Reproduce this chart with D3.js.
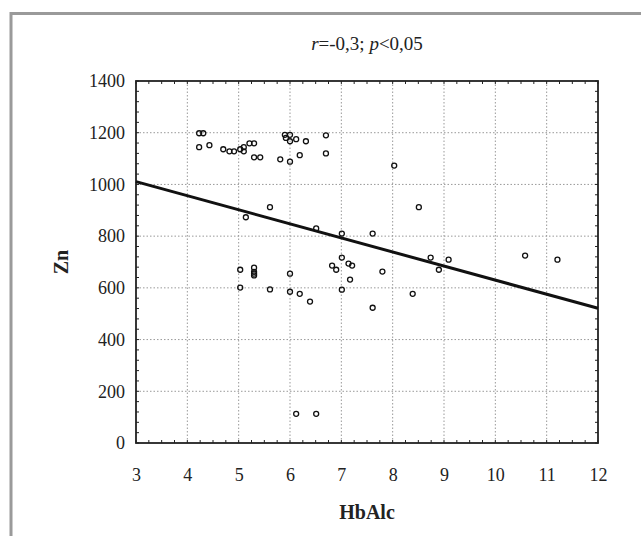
<!DOCTYPE html>
<html><head><meta charset="utf-8">
<script src="https://cdn.jsdelivr.net/npm/d3@7"></script>
<style>body{margin:0;background:#fff}svg{display:block}</style>
</head><body>
<svg id="c" width="641" height="536"></svg>
<script>
const hbalc = [4.23,4.31,4.23,4.43,4.70,4.82,4.91,5.03,5.10,5.10,5.21,5.30,5.30,5.42,5.81,5.90,5.92,6.00,6.00,6.00,6.12,6.19,6.31,6.70,6.70,8.03,5.61,5.14,6.51,7.01,7.61,8.51,7.01,6.82,6.90,7.14,7.21,6.00,7.17,7.80,6.00,6.19,6.39,7.01,7.61,8.39,8.74,8.90,9.09,10.58,11.21,5.03,5.30,5.30,5.30,5.30,5.03,5.61,6.12,6.51];
const zn = [1198,1198,1144,1152,1136,1128,1128,1136,1144,1128,1159,1159,1105,1105,1097,1192,1180,1192,1167,1088,1175,1113,1167,1190,1120,1073,912,873,830,810,810,912,717,686,670,694,686,655,632,663,585,577,547,593,523,577,717,670,709,725,709,670,678,662,655,648,601,594,113,113];
const fitX = [3, 12];
const fitY = [1011, 521];
const xTicks = [3,4,5,6,7,8,9,10,11,12];
const yTicks = [0,200,400,600,800,1000,1200,1400];
const title = ["r", "=-0,3; ", "p", "<0,05"];
const xTitle = "HbAlc", yTitle = "Zn";

const svg = d3.select("#c");
const L=136, R=598, T=81, B=443;
const x = d3.scaleLinear().domain([3,12]).range([L,R]);
const y = d3.scaleLinear().domain([0,1400]).range([B,T]);
const font = "'Liberation Serif','Times New Roman',serif";

svg.append("rect").attr("x",11).attr("y",13.5).attr("width",700).attr("height",600)
  .attr("fill","none").attr("stroke","#9a9a9a").attr("stroke-width",3);

// grid
const g = svg.append("g");
g.selectAll(".vg").data(xTicks.slice(1,-1)).join("line")
  .attr("x1",d=>x(d)).attr("x2",d=>x(d)).attr("y1",T).attr("y2",B)
  .attr("stroke","#999").attr("stroke-width",1).attr("stroke-dasharray","1.5,2");
g.selectAll(".hg").data(yTicks.slice(1,-1)).join("line")
  .attr("y1",d=>y(d)).attr("y2",d=>y(d)).attr("x1",L).attr("x2",R)
  .attr("stroke","#999").attr("stroke-width",1).attr("stroke-dasharray","1.5,2");

// minor ticks
const xMinor = d3.range(3,12.001,0.25);
const yMinor = d3.range(0,1400.1,40);
const tk = svg.append("g").attr("stroke","#222").attr("stroke-width",1);
xMinor.forEach(v=>{
  tk.append("line").attr("x1",x(v)).attr("x2",x(v)).attr("y1",B).attr("y2",B-3);
  tk.append("line").attr("x1",x(v)).attr("x2",x(v)).attr("y1",T).attr("y2",T+3);
});
yMinor.forEach(v=>{
  tk.append("line").attr("y1",y(v)).attr("y2",y(v)).attr("x1",L).attr("x2",L+3);
  tk.append("line").attr("y1",y(v)).attr("y2",y(v)).attr("x1",R).attr("x2",R-3);
});

// frame
svg.append("rect").attr("x",L).attr("y",T).attr("width",R-L).attr("height",B-T)
  .attr("fill","none").attr("stroke","#222").attr("stroke-width",1.8);

// axes labels
const xa = d3.axisBottom(x).tickValues(xTicks).tickSize(0).tickPadding(0).tickFormat(d3.format("d"));
const xg = svg.append("g").attr("transform",`translate(0,${B})`).call(xa);
xg.select(".domain").remove();
xg.selectAll("text").attr("font-family",font).attr("font-size",18).attr("fill","#222").attr("dy",null).attr("y",38);
const ya = d3.axisLeft(y).tickValues(yTicks).tickSize(0).tickPadding(0).tickFormat(d3.format("d"));
const yg = svg.append("g").attr("transform",`translate(${L-11},0)`).call(ya);
yg.select(".domain").remove();
yg.selectAll("text").attr("font-family",font).attr("font-size",18).attr("fill","#222").attr("dy","0.32em").attr("x",0);

// fit line
svg.append("line").attr("x1",x(fitX[0])).attr("y1",y(fitY[0])).attr("x2",x(fitX[1])).attr("y2",y(fitY[1]))
  .attr("stroke","#111").attr("stroke-width",3);

// points
svg.append("g").selectAll("circle").data(hbalc.map((v,i)=>[v,zn[i]])).join("circle")
  .attr("cx",d=>x(d[0])).attr("cy",d=>y(d[1])).attr("r",2.5)
  .attr("fill","none").attr("stroke","#111").attr("stroke-width",1.3);

// title
const t = svg.append("text").attr("x",(L+R)/2).attr("y",50).attr("text-anchor","middle")
  .attr("font-family",font).attr("font-size",19).attr("fill","#222");
title.forEach((s,i)=>t.append("tspan").text(s).attr("font-style", i%2===0?"italic":"normal"));

svg.append("text").attr("x",(L+R)/2).attr("y",519).attr("text-anchor","middle")
  .attr("font-family",font).attr("font-size",20).attr("font-weight","bold").attr("fill","#222").text(xTitle);
svg.append("text").attr("transform",`translate(68,${(T+B)/2}) rotate(-90)`).attr("text-anchor","middle")
  .attr("font-family",font).attr("font-size",20).attr("font-weight","bold").attr("fill","#222").text(yTitle);
</script>
</body></html>
